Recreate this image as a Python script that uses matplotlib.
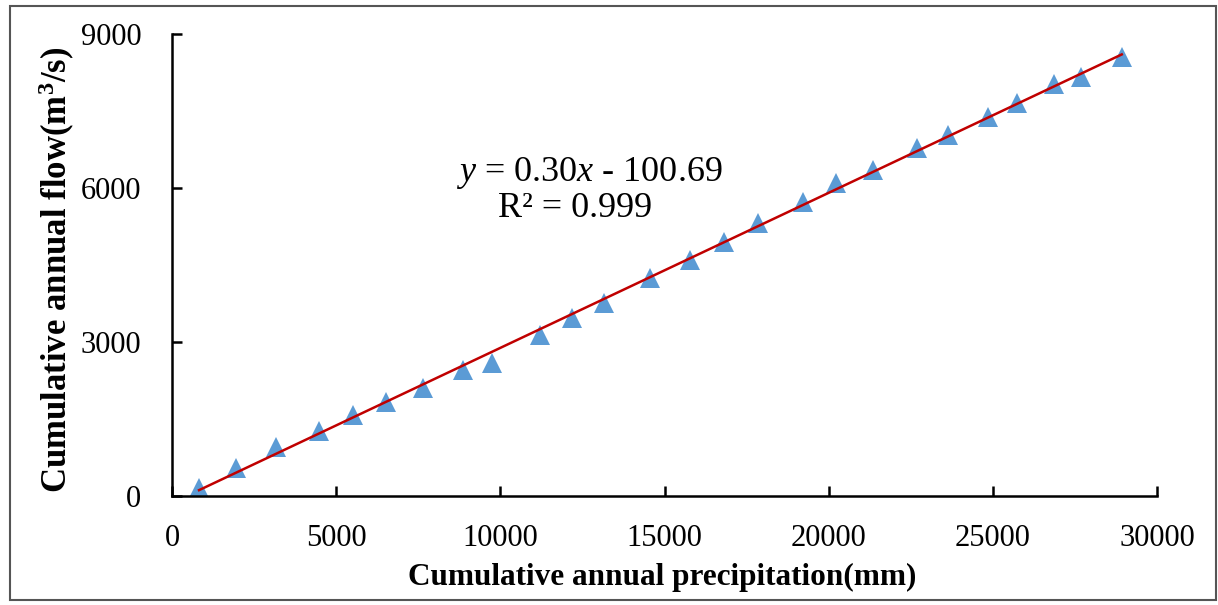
import matplotlib as mpl
mpl.use('Agg')
import matplotlib.pyplot as plt
from matplotlib.patches import Rectangle
import numpy as np

plt.rcParams['font.family'] = 'Liberation Serif'
plt.rcParams['mathtext.fontset'] = 'custom'
plt.rcParams['mathtext.rm'] = 'Liberation Serif'
plt.rcParams['mathtext.it'] = 'Liberation Serif:italic'
plt.rcParams['mathtext.bf'] = 'Liberation Serif:bold'

# cumulative annual precipitation (mm) and cumulative annual flow (m3/s)
precip = [823, 1961, 3181, 4482, 5518, 6514, 7632, 8853, 9746, 11210,
          12186, 13161, 14543, 15762, 16809, 17845, 19217, 20213, 21351,
          22673, 23637, 24838, 25741, 26870, 27683, 28924]
flow = [150, 540, 961, 1273, 1578, 1837, 2098, 2455, 2597, 3137,
        3462, 3754, 4241, 4598, 4955, 5312, 5734, 6092, 6351,
        6773, 7033, 7390, 7650, 8020, 8169, 8547]

eq_text = '$y$ = 0.30$x$ - 100.69'
r2_text = 'R² = 0.999'

fig = plt.figure(figsize=(12.18, 6.05), dpi=100)
ax = fig.add_axes([0.1412, 0.1802, 0.8088, 0.7636])

x = np.array(precip)
y = np.array(flow)
k, b = np.polyfit(x, y, 1)
xl = np.array([x.min(), x.max()])

ax.plot(x, y, '^', color='#5B9BD5', markersize=15, markeredgewidth=0, zorder=2)
ax.plot(xl, k * xl + b, color='#C00000', linewidth=1.8, zorder=3)

ax.set_xlim(0, 30000)
ax.set_ylim(0, 9000)
ax.set_xticks([0, 5000, 10000, 15000, 20000, 25000, 30000])
ax.set_yticks([0, 3000, 6000, 9000])

for s in ['top', 'right']:
    ax.spines[s].set_visible(False)
for s in ['left', 'bottom']:
    ax.spines[s].set_linewidth(1.8)
    ax.spines[s].set_color('black')
ax.tick_params(direction='in', length=7, width=1.8, labelsize=22)
ax.tick_params(axis='x', pad=20)
ax.tick_params(axis='y', pad=22)

ax.set_xlabel('Cumulative annual precipitation(mm)', fontsize=22.5, fontweight='bold')
ax.set_ylabel('Cumulative annual flow(m$^{\\mathbf{3}}$/s)', fontsize=25, fontweight='bold')
ax.xaxis.set_label_coords(0.498, -0.145)
ax.yaxis.set_label_coords(-0.096, 0.49)

ax.text(0.424, 0.699, eq_text, transform=ax.transAxes, ha='center', va='center', fontsize=26)
ax.text(0.409, 0.622, r2_text, transform=ax.transAxes, ha='center', va='center', fontsize=26)

fig.patches.append(Rectangle((0.008, 0.008), 0.99, 0.982, transform=fig.transFigure,
                             fill=False, edgecolor='#555555', linewidth=1.5))

plt.savefig('out.png', dpi=100)
